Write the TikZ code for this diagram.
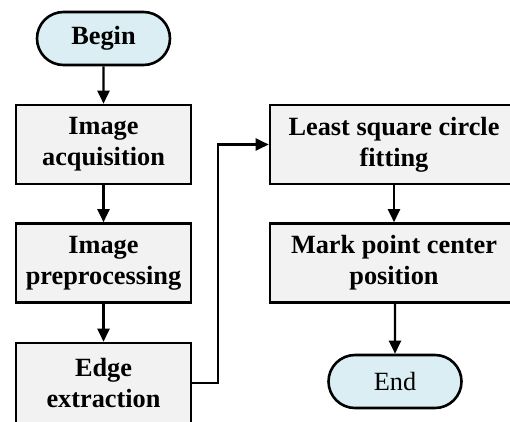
\documentclass[tikz,border=0pt]{standalone}
\usepackage{fontspec}
\setmainfont{Liberation Serif}
\usetikzlibrary{arrows.meta,shapes.misc}
\definecolor{boxfill}{HTML}{F2F2F2}
\definecolor{termfill}{HTML}{DAEEF3}
\begin{document}
\begin{tikzpicture}[x=1pt,y=-1pt,
  txt/.style={font=\fontsize{26.3}{31}\selectfont\bfseries, align=center, inner sep=0pt},
  procbox/.style={txt, draw=black, line width=2.6pt, fill=boxfill, rectangle, minimum height=79pt},
  termbox/.style={txt, draw=black, line width=2.6pt, fill=termfill, rounded rectangle, minimum width=133pt, minimum height=53pt},
  flow/.style={draw=black, line width=2.2pt, -{Triangle[length=13pt,width=12pt]}}]
\useasboundingbox (0,0) rectangle (510,421);
\clip (0,0) rectangle (510,421);
% left column
\node[termbox] (begin) at (103.5,38.5) {Begin};
\node[procbox, minimum width=175pt] (acq) at (103.5,144.5) {Image\\acquisition};
\node[procbox, minimum width=175pt] (pre) at (103.5,263) {Image\\preprocessing};
\node[procbox, minimum width=175pt, minimum height=80pt] (edge) at (103.5,383) {Edge\\extraction};
% right column
\node[procbox, minimum width=248pt] (fit) at (394,144.5) {Least square circle\\fitting};
\node[procbox, minimum width=248pt] (mark) at (394,263) {Mark point center\\position};
\node[termbox, font=\fontsize{26.3}{31}\selectfont\mdseries] (end) at (395,381.5) {End};
% connectors
\coordinate (bend) at (218,383);
\draw[flow] (begin) -- (acq);
\draw[flow] (acq) -- (pre);
\draw[flow] (pre) -- (edge);
\draw[flow] (edge.east) -- (bend) |- (fit.west);
\draw[flow] (fit) -- (mark);
\draw[flow] (mark.south -| end) -- (end);
\end{tikzpicture}
\end{document}
